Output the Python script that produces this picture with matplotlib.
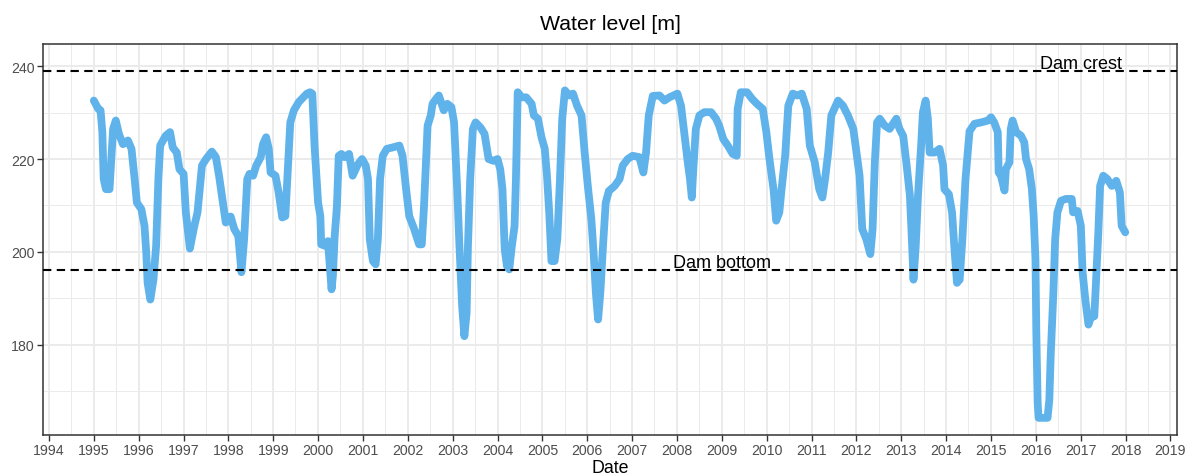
"""Reservoir water level 1995-2018 against the dam crest / dam bottom elevations."""
import matplotlib
matplotlib.use("Agg")
import matplotlib.pyplot as plt
import matplotlib.dates as mdates
import pandas as pd

# decimal year of each reading
YEARS = [
    1995.00, 1995.10, 1995.15, 1995.19, 1995.22, 1995.27, 1995.35, 1995.43, 1995.49, 1995.56,
    1995.65, 1995.76, 1995.84, 1995.91, 1995.96, 1996.06, 1996.13, 1996.17, 1996.20, 1996.26,
    1996.33, 1996.39, 1996.44, 1996.48, 1996.60, 1996.70, 1996.76, 1996.85, 1996.91, 1997.00,
    1997.05, 1997.14, 1997.24, 1997.31, 1997.41, 1997.50, 1997.63, 1997.72, 1997.79, 1997.87,
    1997.94, 1998.05, 1998.13, 1998.22, 1998.29, 1998.35, 1998.42, 1998.47, 1998.55, 1998.62,
    1998.72, 1998.77, 1998.84, 1998.90, 1998.94, 1999.05, 1999.12, 1999.20, 1999.27, 1999.33,
    1999.38, 1999.46, 1999.57, 1999.75, 1999.82, 1999.87, 1999.92, 2000.00, 2000.05, 2000.07,
    2000.15, 2000.22, 2000.30, 2000.33, 2000.37, 2000.42, 2000.46, 2000.52, 2000.59, 2000.69,
    2000.77, 2000.89, 2000.98, 2001.06, 2001.11, 2001.15, 2001.22, 2001.28, 2001.33, 2001.38,
    2001.44, 2001.53, 2001.66, 2001.81, 2001.88, 2001.96, 2002.03, 2002.14, 2002.25, 2002.31,
    2002.36, 2002.44, 2002.51, 2002.55, 2002.63, 2002.69, 2002.80, 2002.88, 2002.97, 2003.03,
    2003.10, 2003.15, 2003.21, 2003.26, 2003.31, 2003.34, 2003.39, 2003.45, 2003.51, 2003.62,
    2003.71, 2003.80, 2003.91, 2004.00, 2004.06, 2004.11, 2004.16, 2004.21, 2004.26, 2004.32,
    2004.38, 2004.41, 2004.45, 2004.54, 2004.64, 2004.76, 2004.81, 2004.90, 2004.98, 2005.05,
    2005.10, 2005.15, 2005.20, 2005.27, 2005.33, 2005.39, 2005.44, 2005.50, 2005.59, 2005.68,
    2005.77, 2005.87, 2005.94, 2006.01, 2006.09, 2006.14, 2006.19, 2006.24, 2006.29, 2006.35,
    2006.41, 2006.48, 2006.61, 2006.72, 2006.79, 2006.90, 2007.01, 2007.16, 2007.25, 2007.31,
    2007.37, 2007.46, 2007.61, 2007.72, 2007.83, 2008.01, 2008.09, 2008.16, 2008.24, 2008.29,
    2008.33, 2008.36, 2008.42, 2008.50, 2008.61, 2008.76, 2008.87, 2008.94, 2009.03, 2009.13,
    2009.24, 2009.33, 2009.35, 2009.42, 2009.56, 2009.67, 2009.78, 2009.91, 2009.99, 2010.06,
    2010.15, 2010.21, 2010.28, 2010.33, 2010.41, 2010.48, 2010.58, 2010.68, 2010.78, 2010.89,
    2010.96, 2011.07, 2011.17, 2011.24, 2011.30, 2011.37, 2011.44, 2011.59, 2011.70, 2011.81,
    2011.93, 2011.99, 2012.07, 2012.13, 2012.22, 2012.31, 2012.36, 2012.41, 2012.46, 2012.52,
    2012.63, 2012.74, 2012.89, 2012.96, 2013.04, 2013.11, 2013.19, 2013.24, 2013.27, 2013.32,
    2013.37, 2013.44, 2013.48, 2013.54, 2013.59, 2013.63, 2013.74, 2013.85, 2013.93, 2013.96,
    2014.06, 2014.13, 2014.19, 2014.24, 2014.30, 2014.36, 2014.43, 2014.52, 2014.63, 2014.78,
    2014.93, 2015.00, 2015.07, 2015.15, 2015.17, 2015.22, 2015.30, 2015.33, 2015.41, 2015.44,
    2015.48, 2015.56, 2015.67, 2015.74, 2015.78, 2015.85, 2015.91, 2015.95, 2015.99, 2016.01,
    2016.04, 2016.06, 2016.26, 2016.30, 2016.33, 2016.39, 2016.43, 2016.48, 2016.56, 2016.67,
    2016.80, 2016.83, 2016.93, 2017.00, 2017.04, 2017.10, 2017.17, 2017.22, 2017.30, 2017.33,
    2017.39, 2017.43, 2017.50, 2017.59, 2017.69, 2017.79, 2017.87, 2017.91, 2017.99,
]

# water level [m]
LEVELS = [
    232.6, 230.8, 230.5, 225.8, 215.7, 213.5, 213.5, 226.5, 228.3, 225.4,
    223.2, 224.0, 222.2, 215.7, 210.6, 209.2, 205.6, 199.8, 193.3, 189.7,
    194.0, 201.3, 215.7, 222.9, 225.0, 225.8, 222.5, 221.4, 217.8, 216.8,
    208.5, 200.7, 205.6, 208.5, 218.6, 220.0, 221.6, 220.4, 216.4, 211.0,
    206.3, 207.6, 204.9, 203.4, 195.6, 202.7, 215.7, 216.8, 216.4, 218.6,
    220.4, 223.2, 224.7, 222.2, 217.1, 216.4, 212.8, 207.4, 207.7, 218.6,
    227.9, 230.5, 232.3, 234.1, 234.4, 234.1, 222.9, 210.6, 207.7, 201.6,
    201.3, 202.3, 191.9, 194.8, 203.4, 209.9, 220.7, 221.1, 220.4, 221.1,
    216.4, 218.9, 220.0, 218.6, 215.7, 202.7, 198.0, 197.3, 202.7, 215.7,
    220.7, 222.2, 222.5, 222.9, 220.7, 213.5, 207.7, 204.9, 201.6, 201.6,
    209.9, 227.2, 229.4, 231.9, 233.0, 233.7, 230.5, 231.9, 231.2, 227.9,
    213.5, 201.3, 188.3, 181.8, 186.8, 201.3, 215.7, 226.5, 227.9, 226.8,
    225.4, 220.0, 219.6, 220.0, 217.8, 213.5, 200.5, 196.9, 196.2, 201.3,
    205.6, 215.7, 234.4, 233.3, 233.3, 231.9, 229.4, 228.7, 224.7, 222.2,
    216.4, 208.5, 198.0, 198.0, 202.7, 215.7, 228.7, 234.8, 233.7, 234.1,
    231.5, 229.4, 221.4, 214.3, 207.0, 199.8, 191.2, 185.4, 191.2, 201.3,
    210.6, 213.1, 214.2, 215.7, 218.6, 220.0, 220.7, 220.4, 217.1, 221.4,
    229.4, 233.6, 233.7, 232.6, 233.3, 234.1, 231.5, 225.8, 219.3, 215.7,
    211.7, 217.1, 226.5, 229.4, 230.1, 230.1, 228.7, 227.2, 224.3, 222.9,
    221.1, 220.7, 230.8, 234.4, 234.4, 233.0, 231.9, 230.8, 225.8, 220.0,
    213.5, 206.7, 208.5, 213.5, 220.7, 231.5, 234.1, 233.7, 234.1, 230.8,
    222.9, 219.3, 213.5, 211.7, 215.7, 221.4, 229.4, 232.6, 231.5, 229.4,
    226.5, 222.2, 216.4, 204.9, 202.7, 199.5, 204.9, 219.3, 227.9, 228.7,
    227.2, 226.5, 228.7, 226.5, 225.0, 219.3, 212.1, 201.3, 194.0, 201.3,
    212.1, 222.9, 230.1, 232.6, 228.7, 221.4, 221.4, 222.2, 218.6, 213.5,
    212.4, 208.5, 199.8, 193.3, 194.0, 202.7, 215.7, 226.0, 227.6, 227.9,
    228.3, 229.0, 227.9, 225.8, 217.1, 216.4, 213.2, 217.8, 219.3, 226.5,
    228.3, 225.8, 225.0, 223.6, 220.0, 217.8, 213.5, 207.8, 198.4, 182.5,
    167.4, 164.2, 164.2, 168.1, 177.5, 191.2, 202.7, 208.5, 211.0, 211.4,
    211.4, 208.5, 208.8, 205.6, 195.5, 189.7, 184.3, 185.8, 186.1, 191.9,
    204.2, 214.2, 216.4, 215.7, 214.2, 215.3, 212.8, 205.6, 204.2,
]

REF_LABELS = ["Dam crest", "Dam bottom"]
REF_LEVELS = [239.0, 196.0]
REF_LABEL_YEARS = [2017.0, 2009.0]
REF_LABEL_Y = [240.6, 197.6]

LINE_COLOR = "#60B3EA"
GRID_COLOR = "#EBEBEB"
TEXT_GREY = "#4D4D4D"
FONT = ["Liberation Sans", "DejaVu Sans"]


def to_date(y: float) -> pd.Timestamp:
    """Decimal year -> timestamp."""
    year = int(y)
    return pd.Timestamp(year, 1, 1) + pd.Timedelta(days=(y - year) * 365.25)


def main() -> None:
    plt.rcParams["font.family"] = FONT
    dates = [to_date(y) for y in YEARS]

    fig = plt.figure(figsize=(11.91, 4.77), dpi=100)
    ax = fig.add_axes([43 / 1191, 1 - 436 / 477, 1134 / 1191, 391 / 477])

    ax.plot(dates, LEVELS, color=LINE_COLOR, lw=5.6, solid_joinstyle="round",
            solid_capstyle="round", zorder=3)
    for lab, lvl, lx, ly in zip(REF_LABELS, REF_LEVELS, REF_LABEL_YEARS, REF_LABEL_Y):
        ax.axhline(lvl, color="black", lw=1.5, ls=(0, (4, 2.6)), zorder=4)
        ax.text(to_date(lx), ly, lab, ha="center", va="center", fontsize=13,
                color="black", zorder=5)

    ax.set_xlim(to_date(1993.866), to_date(2019.145))
    ax.set_ylim(160.5, 244.8)
    ax.xaxis.set_major_locator(mdates.YearLocator())
    ax.xaxis.set_minor_locator(mdates.MonthLocator(bymonth=7))
    ax.xaxis.set_major_formatter(mdates.DateFormatter("%Y"))
    ax.set_yticks([180, 200, 220, 240])
    ax.set_yticks([170, 190, 210, 230], minor=True)

    ax.grid(which="major", color=GRID_COLOR, lw=1.4, zorder=0)
    ax.grid(which="minor", color=GRID_COLOR, lw=0.7, zorder=0)
    ax.set_axisbelow(True)
    ax.tick_params(which="major", length=4, width=1.0, color="#333333",
                   labelsize=10.2, labelcolor=TEXT_GREY, pad=2)
    ax.tick_params(which="minor", length=0)
    for sp in ax.spines.values():
        sp.set_color("#333333")
        sp.set_linewidth(1.1)

    ax.set_title("Water level [m]", fontsize=15.3, pad=11)
    ax.set_xlabel("Date", fontsize=12.8, labelpad=1)
    fig.savefig("out.png", dpi=100)
    plt.close(fig)


if __name__ == "__main__":
    main()
